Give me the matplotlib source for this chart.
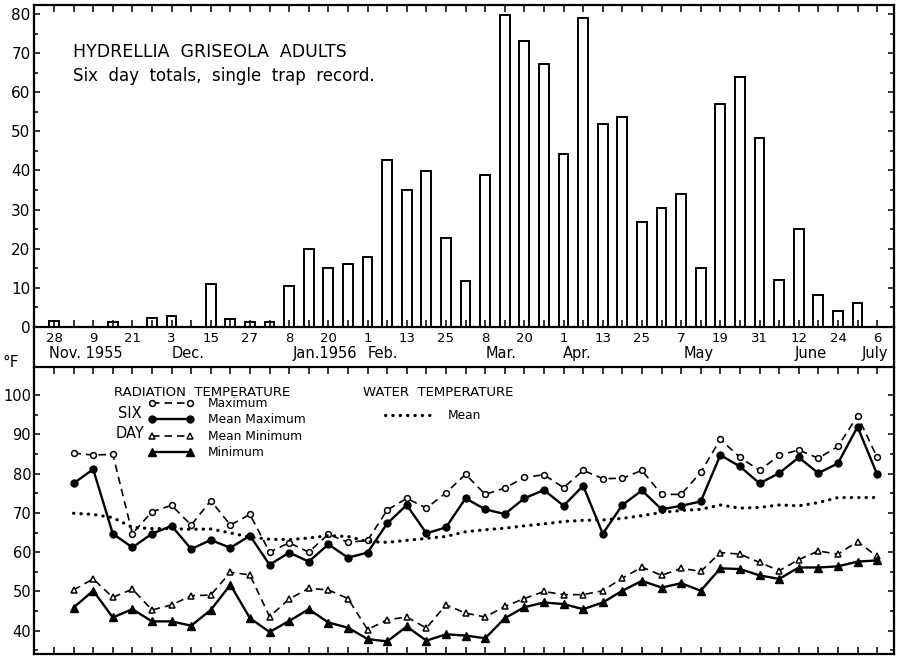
import numpy as np
import matplotlib
matplotlib.use("Agg")
import matplotlib.pyplot as plt
from matplotlib.ticker import FixedLocator, NullFormatter

# ---------------- data ----------------
# six-day periods, index 0 = 28 Nov 1955 ... 42 = 6 July 1956
day_labels = ["28", "9", "21", "3", "15", "27", "8", "20", "1", "13", "25",
              "8", "20", "1", "13", "25", "7", "19", "31", "12", "24", "6"]
month_labels = ["Nov. 1955", "Dec.", "Jan.1956", "Feb.", "Mar.", "Apr.",
                "May", "June", "July"]
month_pos = [1.6, 6.85, 13.8, 16.8, 22.8, 26.7, 32.9, 38.6, 41.9]

# Hydrellia griseola adults, six-day totals (periods 0..42)
adult_counts = [1.5, 0, 0, 1.3, 0, 2.3, 2.9, 0, 11.0, 2.0,
                1.3, 1.3, 10.6, 20.0, 15.0, 16.0, 18.0, 42.8, 35.1, 39.9,
                22.8, 11.8, 38.9, 79.8, 73.1, 67.1, 44.2, 79.1, 51.8, 53.8,
                26.9, 30.5, 34.0, 15.0, 57.1, 63.8, 48.2, 12.1, 25.0, 8.1,
                4.2, 6.2, 0]

# temperatures, periods 1..42 (deg F)
rad_maximum = [85.2, 84.7, 84.9, 64.7, 70.3, 71.9, 66.9, 73.1, 66.9, 69.6,
               60.0, 62.4, 60.0, 64.6, 62.5, 63.0, 70.7, 73.7, 71.2, 75.1,
               79.8, 74.7, 76.3, 79.0, 79.7, 76.4, 80.8, 78.7, 78.8, 80.8,
               74.7, 74.7, 80.3, 88.7, 84.1, 80.8, 84.6, 86.0, 83.9, 86.9,
               94.7, 84.1]
rad_mean_maximum = [77.5, 81.1, 64.7, 61.2, 64.7, 66.7, 60.8, 63.1, 61.1, 64.2,
                    56.8, 59.9, 57.6, 62.0, 58.6, 59.9, 67.3, 72.0, 64.8, 66.3,
                    73.7, 70.9, 69.7, 73.7, 75.8, 71.8, 76.9, 64.7, 72.0, 75.7,
                    70.9, 71.8, 72.9, 84.7, 81.8, 77.5, 80.1, 84.1, 80.1, 82.6,
                    91.9, 79.8]
rad_mean_minimum = [50.4, 53.2, 48.5, 50.6, 45.3, 46.6, 48.9, 49.1, 54.9, 54.2,
                    43.6, 48.1, 50.8, 50.4, 48.2, 40.3, 42.8, 43.5, 40.7, 46.6,
                    44.5, 43.5, 46.2, 48.2, 50.0, 49.2, 49.2, 50.2, 53.4, 56.2,
                    54.1, 55.9, 55.1, 59.9, 59.5, 57.4, 55.3, 58.1, 60.3, 59.5,
                    62.7, 58.9]
rad_minimum = [45.9, 50.2, 43.4, 45.5, 42.4, 42.4, 41.3, 45.3, 51.7, 43.2,
               39.7, 42.5, 45.5, 42.1, 40.8, 37.9, 37.3, 41.1, 37.5, 39.1,
               38.8, 38.1, 43.2, 46.0, 47.2, 46.8, 45.5, 47.2, 50.2, 52.7,
               51.0, 52.1, 50.2, 55.9, 55.7, 54.1, 53.2, 56.1, 56.1, 56.4,
               57.6, 57.9]
water_mean = [69.9, 69.6, 68.8, 66.3, 66.0, 66.0, 65.8, 65.9, 64.9, 63.8,
              63.3, 63.2, 63.6, 64.2, 64.0, 62.7, 62.5, 63.0, 63.5, 64.0,
              65.2, 65.7, 66.1, 66.7, 67.2, 67.8, 68.1, 68.2, 68.6, 69.3,
              70.1, 70.6, 70.9, 72.0, 71.2, 71.4, 72.0, 71.8, 72.6, 73.9,
              73.9, 73.9]

# ---------------- layout ----------------
plt.rcParams['font.family'] = ['DejaVu Sans']
W, H = 897, 656
fig = plt.figure(figsize=(W / 100, H / 100), dpi=100)


def fx(px):
    return px / W


def fy(py):
    return 1 - py / H


L, R = 34, 894
XLIM = (-1.02, 42.86)
band = fig.add_axes([fx(L), fy(367), fx(R) - fx(L), fy(327) - fy(367)])
band.patch.set_visible(False)
ax1 = fig.add_axes([fx(L), fy(327), fx(R) - fx(L), fy(5) - fy(327)])
ax2 = fig.add_axes([fx(L), fy(654), fx(R) - fx(L), fy(367) - fy(654)])

for a in (ax1, band, ax2):
    a.set_xlim(*XLIM)
    for s in a.spines.values():
        s.set_linewidth(1.6)

# ---------------- top panel: bars ----------------
counts = np.array(adult_counts)
kb = np.arange(len(counts))
m = counts > 0
ax1.bar(kb[m], counts[m], width=0.5, facecolor='white', edgecolor='black',
        linewidth=1.4)
ax1.set_ylim(0, 82.3)
ax1.yaxis.set_major_locator(FixedLocator(np.arange(0, 81, 10)))
ax1.yaxis.set_minor_locator(FixedLocator(np.arange(5, 81, 10)))
ax1.xaxis.set_major_locator(FixedLocator(np.arange(0, 43, 2)))
ax1.xaxis.set_minor_locator(FixedLocator(np.arange(1, 43, 2)))
ax1.set_xticklabels(day_labels, fontsize=9.5)
ax1.tick_params(axis='x', which='both', direction='in', top=True, bottom=True,
                length=5, width=1.1, pad=3.5)
ax1.tick_params(axis='y', which='both', direction='in', left=True, right=True,
                width=1.1, labelsize=11, pad=2.5)
ax1.tick_params(axis='y', which='major', length=4.5)
ax1.tick_params(axis='y', which='minor', length=3)

fig.text(fx(73), fy(52), "HYDRELLIA  GRISEOLA  ADULTS", fontsize=12.5,
         va='center', ha='left')
fig.text(fx(73), fy(76), "Six  day  totals,  single  trap  record.",
         fontsize=12, va='center', ha='left')

# ---------------- date band ----------------
band.set_ylim(0, 1)
band.set_xticks([])
band.set_yticks([])
band.spines['top'].set_visible(False)
band.spines['bottom'].set_visible(False)
for name, pos in zip(month_labels, month_pos):
    band.text(pos, 0.33, name, fontsize=10.5, ha='center', va='center')
fig.text(fx(3), fy(362), "°F", fontsize=11, ha='left', va='center')

# ---------------- bottom panel: temperatures ----------------
kt = np.arange(1, len(rad_maximum) + 1)
dash = (0, (4.5, 3))
l_max, = ax2.plot(kt, rad_maximum, linestyle=dash, color='black', lw=1.2,
                  marker='o', ms=4.2, mfc='white', mec='black', mew=1.1,
                  label='Maximum')
l_mmax, = ax2.plot(kt, rad_mean_maximum, linestyle='-', color='black', lw=1.7,
                   marker='o', ms=5, mfc='black', mec='black',
                   label='Mean Maximum')
l_mmin, = ax2.plot(kt, rad_mean_minimum, linestyle=dash, color='black', lw=1.2,
                   marker='^', ms=5, mfc='white', mec='black', mew=1.1,
                   label='Mean Minimum')
l_min, = ax2.plot(kt, rad_minimum, linestyle='-', color='black', lw=1.7,
                  marker='^', ms=5.5, mfc='black', mec='black',
                  label='Minimum')
l_water, = ax2.plot(kt, water_mean, linestyle=(0, (0.1, 2.2)), color='black',
                    lw=2.3, dash_capstyle='round', label='Mean')

ax2.set_ylim(34.1, 107.1)
ax2.yaxis.set_major_locator(FixedLocator(np.arange(40, 101, 10)))
ax2.yaxis.set_minor_locator(FixedLocator(np.arange(35, 100, 10)))
ax2.xaxis.set_major_locator(FixedLocator(np.arange(0, 43, 1)))
ax2.xaxis.set_major_formatter(NullFormatter())
ax2.tick_params(axis='x', which='both', direction='in', top=True, bottom=True,
                length=5, width=1.1)
ax2.tick_params(axis='y', which='both', direction='in', left=True, right=True,
                width=1.1, labelsize=10.5, pad=2)
ax2.tick_params(axis='y', which='major', length=4.5)
ax2.tick_params(axis='y', which='minor', length=3)

# legends
fig.text(fx(114), fy(392), "RADIATION  TEMPERATURE", fontsize=9.5,
         ha='left', va='center')
fig.text(fx(363), fy(392), "WATER  TEMPERATURE", fontsize=9.5,
         ha='left', va='center')
fig.text(fx(118), fy(413), "SIX", fontsize=10.5, ha='left', va='center')
fig.text(fx(116), fy(434), "DAY", fontsize=10.5, ha='left', va='center')

leg1 = ax2.legend(handles=[l_max, l_mmax, l_mmin, l_min], loc='upper left',
                  bbox_to_anchor=(fx(148), fy(397)),
                  bbox_transform=fig.transFigure, frameon=False,
                  fontsize=8.8, numpoints=2, handlelength=3.7,
                  handletextpad=1.2, labelspacing=0.28, borderpad=0,
                  borderaxespad=0)
ax2.add_artist(leg1)
ax2.legend(handles=[l_water], loc='upper left',
           bbox_to_anchor=(fx(385), fy(409)),
           bbox_transform=fig.transFigure, frameon=False, fontsize=8.8,
           handlelength=3.8, handletextpad=1.3, borderpad=0, borderaxespad=0)

fig.savefig("out.png", dpi=100)
